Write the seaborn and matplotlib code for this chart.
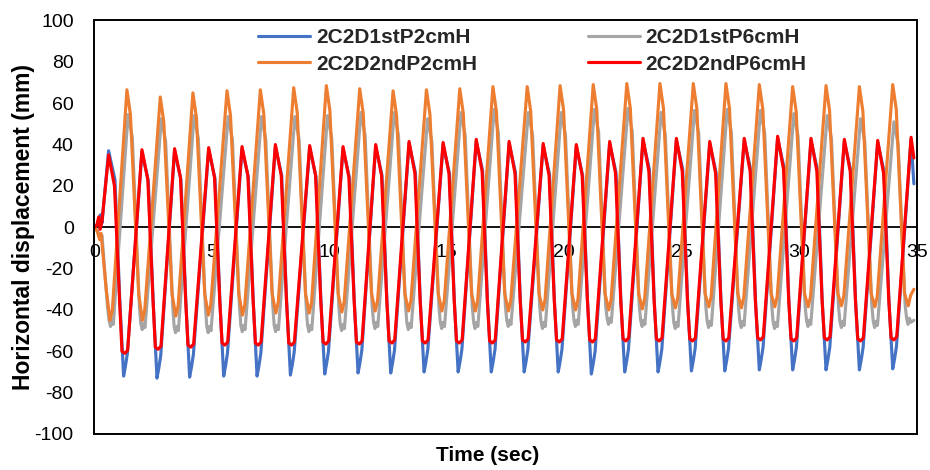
import matplotlib
matplotlib.use("Agg")
import matplotlib.pyplot as plt
from matplotlib.lines import Line2D
from matplotlib.patches import Rectangle
import pandas as pd
import seaborn as sns

# ---------------- data ----------------
series_names = ["2C2D1stP2cmH", "2C2D1stP6cmH", "2C2D2ndP2cmH", "2C2D2ndP6cmH"]
series_colors = ["#4472C4", "#A5A5A5", "#ED7D31", "#FF0000"]
x_ticks = [0, 5, 10, 15, 20, 25, 30, 35]
y_ticks = [-100, -80, -60, -40, -20, 0, 20, 40, 60, 80, 100]

# 2C2D1stP2cmH (blue)
blue_t = [0.00, 0.10, 0.25, 0.32,
          0.60, 0.87, 1.08, 1.24, 1.32, 1.40,
          2.02, 2.29, 2.50, 2.66, 2.74, 2.82,
          3.41, 3.68, 3.89, 4.05, 4.13, 4.21,
          4.86, 5.13, 5.34, 5.50, 5.58, 5.66,
          6.28, 6.55, 6.76, 6.92, 7.00, 7.08,
          7.70, 7.97, 8.18, 8.34, 8.42, 8.50,
          9.16, 9.43, 9.64, 9.80, 9.88, 9.96,
          10.58, 10.85, 11.06, 11.22, 11.30, 11.38,
          11.97, 12.24, 12.45, 12.61, 12.69, 12.77,
          13.39, 13.66, 13.87, 14.03, 14.11, 14.19,
          14.84, 15.11, 15.32, 15.48, 15.56, 15.64,
          16.25, 16.52, 16.73, 16.89, 16.97, 17.05,
          17.65, 17.92, 18.13, 18.29, 18.37, 18.45,
          19.10, 19.37, 19.58, 19.74, 19.82, 19.90,
          20.51, 20.78, 20.99, 21.15, 21.23, 21.31,
          21.93, 22.20, 22.41, 22.57, 22.65, 22.73,
          23.35, 23.62, 23.83, 23.99, 24.07, 24.15,
          24.77, 25.04, 25.25, 25.41, 25.49, 25.57,
          26.19, 26.46, 26.67, 26.83, 26.91, 26.99,
          27.66, 27.93, 28.14, 28.30, 28.38, 28.46,
          29.08, 29.35, 29.56, 29.72, 29.80, 29.88,
          30.50, 30.77, 30.98, 31.14, 31.22, 31.30,
          31.92, 32.19, 32.40, 32.56, 32.64, 32.72,
          33.34, 33.61, 33.82, 33.98, 34.06, 34.14,
          34.76, 34.88]
blue_v = [0, 1, 6, 2,
          37, 23, -36, -72, -67, -61,
          36.5, 22.5, -36, -73, -68, -62,
          37, 23, -36, -72.5, -67.5, -61.5,
          37.5, 23.5, -36, -72, -67, -61,
          38, 24, -36, -72, -67, -61,
          39, 25, -36, -71.5, -66.5, -60.5,
          38.5, 24.5, -36, -71, -66, -60,
          38, 24, -36, -70.5, -65.5, -59.5,
          39, 25, -36, -70.5, -65.5, -59.5,
          40.5, 26.5, -36, -70, -65, -59,
          40, 26, -36, -70, -65, -59,
          41.5, 27.5, -36, -70, -65, -59,
          40.5, 26.5, -36, -70, -65, -59,
          39.5, 25.5, -36, -70, -65, -59,
          39, 25, -36, -71, -66, -60,
          40.5, 26.5, -36, -70, -65, -59,
          42, 28, -36, -70, -65, -59,
          42, 28, -36, -69.5, -64.5, -58.5,
          40.5, 26.5, -36, -69.5, -64.5, -58.5,
          42, 28, -36, -69, -64, -58,
          43, 29, -36, -69, -64, -58,
          42, 28, -36, -69, -64, -58,
          41.5, 27.5, -36, -69, -64, -58,
          41, 27, -36, -68.5, -63.5, -57.5,
          42.5, 21]

# 2C2D1stP6cmH (gray)
gray_t = [0.00, 0.15, 0.25, 0.32, 0.55, 0.62, 0.68, 0.74, 0.80,
          1.43, 1.61, 1.91, 1.97, 2.03, 2.09, 2.15,
          2.85, 3.03, 3.33, 3.39, 3.45, 3.51, 3.57,
          4.24, 4.42, 4.72, 4.78, 4.84, 4.90, 4.96,
          5.69, 5.87, 6.17, 6.23, 6.29, 6.35, 6.41,
          7.11, 7.29, 7.59, 7.65, 7.71, 7.77, 7.83,
          8.53, 8.71, 9.01, 9.07, 9.13, 9.19, 9.25,
          9.92, 10.10, 10.40, 10.46, 10.52, 10.58, 10.64,
          11.34, 11.52, 11.82, 11.88, 11.94, 12.00, 12.06,
          12.76, 12.94, 13.24, 13.30, 13.36, 13.42, 13.48,
          14.18, 14.36, 14.66, 14.72, 14.78, 14.84, 14.90,
          15.60, 15.78, 16.08, 16.14, 16.20, 16.26, 16.32,
          17.01, 17.19, 17.49, 17.55, 17.61, 17.67, 17.73,
          18.47, 18.65, 18.95, 19.01, 19.07, 19.13, 19.19,
          19.87, 20.05, 20.35, 20.41, 20.47, 20.53, 20.59,
          21.28, 21.46, 21.76, 21.82, 21.88, 21.94, 22.00,
          22.71, 22.89, 23.19, 23.25, 23.31, 23.37, 23.43,
          24.12, 24.30, 24.60, 24.66, 24.72, 24.78, 24.84,
          25.54, 25.72, 26.02, 26.08, 26.14, 26.20, 26.26,
          26.93, 27.11, 27.41, 27.47, 27.53, 27.59, 27.65,
          28.35, 28.53, 28.83, 28.89, 28.95, 29.01, 29.07,
          29.77, 29.95, 30.25, 30.31, 30.37, 30.43, 30.49,
          31.19, 31.37, 31.67, 31.73, 31.79, 31.85, 31.91,
          32.61, 32.79, 33.09, 33.15, 33.21, 33.27, 33.33,
          34.03, 34.21, 34.51, 34.57, 34.63, 34.69, 34.75,
          34.88]
gray_v = [0, -2, -6, -4, -38, -45, -48, -45, -47,
          54.5, 43.5, -38, -46.5, -49.5, -46.5, -48.5,
          52.5, 41.5, -38, -48, -51, -48, -50,
          54, 43, -38, -48, -51, -48, -50,
          53.5, 42.5, -38, -47.5, -50.5, -47.5, -49.5,
          53.5, 42.5, -38, -47.5, -50.5, -47.5, -49.5,
          53.5, 42.5, -38, -47.5, -50.5, -47.5, -49.5,
          54, 43, -38, -47, -50, -47, -49,
          55.5, 44.5, -38, -46, -49, -46, -48,
          55.5, 44.5, -38, -46.5, -49.5, -46.5, -48.5,
          52.5, 41.5, -38, -46, -49, -46, -48,
          55.5, 44.5, -38, -46, -49, -46, -48,
          57, 46, -38, -45, -48, -45, -47,
          55.5, 44.5, -38, -46, -49, -46, -48,
          55.5, 44.5, -38, -45, -48, -45, -47,
          57, 46, -38, -44, -47, -44, -46,
          57.5, 46.5, -38, -45, -48, -45, -47,
          55.5, 44.5, -38, -46, -49, -46, -48,
          56.5, 45.5, -38, -45.5, -48.5, -45.5, -47.5,
          57, 46, -38, -45.5, -48.5, -45.5, -47.5,
          56.5, 45.5, -38, -46, -49, -46, -48,
          55, 44, -38, -45, -48, -45, -47,
          54, 43, -38, -45.5, -48.5, -45.5, -47.5,
          52.5, 41.5, -38, -45.5, -48.5, -45.5, -47.5,
          51, 40, -38, -44, -47, -44, -46,
          -45]

# 2C2D2ndP2cmH (orange)
orange_t = [0.00, 0.12, 0.22, 0.28, 0.50, 0.66, 0.76,
            1.38, 1.53, 1.88, 2.04, 2.14,
            2.80, 2.95, 3.30, 3.46, 3.56,
            4.19, 4.34, 4.69, 4.85, 4.95,
            5.64, 5.79, 6.14, 6.30, 6.40,
            7.06, 7.21, 7.56, 7.72, 7.82,
            8.48, 8.63, 8.98, 9.14, 9.24,
            9.87, 10.02, 10.37, 10.53, 10.63,
            11.29, 11.44, 11.79, 11.95, 12.05,
            12.71, 12.86, 13.21, 13.37, 13.47,
            14.13, 14.28, 14.63, 14.79, 14.89,
            15.55, 15.70, 16.05, 16.21, 16.31,
            16.96, 17.11, 17.46, 17.62, 17.72,
            18.42, 18.57, 18.92, 19.08, 19.18,
            19.82, 19.97, 20.32, 20.48, 20.58,
            21.23, 21.38, 21.73, 21.89, 21.99,
            22.66, 22.81, 23.16, 23.32, 23.42,
            24.07, 24.22, 24.57, 24.73, 24.83,
            25.49, 25.64, 25.99, 26.15, 26.25,
            26.88, 27.03, 27.38, 27.54, 27.64,
            28.30, 28.45, 28.80, 28.96, 29.06,
            29.72, 29.87, 30.22, 30.38, 30.48,
            31.14, 31.29, 31.64, 31.80, 31.90,
            32.56, 32.71, 33.06, 33.22, 33.32,
            33.98, 34.13, 34.48, 34.64, 34.74,
            34.88]
orange_v = [0, -2, -6, -3, -30, -45, -40,
            66.5, 54.5, -32, -45, -40,
            63, 51, -32, -43, -38,
            65, 53, -32, -42.5, -37.5,
            66, 54, -32, -42.5, -37.5,
            66.5, 54.5, -32, -41.5, -36.5,
            67.5, 55.5, -32, -41.5, -36.5,
            68.5, 56.5, -32, -41, -36,
            67, 55, -32, -40.5, -35.5,
            66, 54, -32, -40.5, -35.5,
            66.5, 54.5, -32, -40.5, -35.5,
            67, 55, -32, -40.5, -35.5,
            68, 56, -32, -40.5, -35.5,
            68, 56, -32, -40, -35,
            68.5, 56.5, -32, -40, -35,
            69, 57, -32, -40, -35,
            69.5, 57.5, -32, -39.5, -34.5,
            69.5, 57.5, -32, -39, -34,
            69.5, 57.5, -32, -38.5, -33.5,
            69.5, 57.5, -32, -39, -34,
            69, 57, -32, -38.5, -33.5,
            68, 56, -32, -38.5, -33.5,
            68.5, 56.5, -32, -38, -33,
            68, 56, -32, -38.5, -33.5,
            69, 57, -32, -38, -33,
            -30]

# 2C2D2ndP6cmH (red)
red_t = [0.00, 0.10, 0.18, 0.24, 0.32,
         0.60, 0.85, 1.07, 1.17, 1.29, 1.41,
         2.02, 2.27, 2.49, 2.59, 2.71, 2.83,
         3.41, 3.66, 3.88, 3.98, 4.10, 4.22,
         4.86, 5.11, 5.33, 5.43, 5.55, 5.67,
         6.28, 6.53, 6.75, 6.85, 6.97, 7.09,
         7.70, 7.95, 8.17, 8.27, 8.39, 8.51,
         9.16, 9.41, 9.63, 9.73, 9.85, 9.97,
         10.58, 10.83, 11.05, 11.15, 11.27, 11.39,
         11.97, 12.22, 12.44, 12.54, 12.66, 12.78,
         13.39, 13.64, 13.86, 13.96, 14.08, 14.20,
         14.84, 15.09, 15.31, 15.41, 15.53, 15.65,
         16.25, 16.50, 16.72, 16.82, 16.94, 17.06,
         17.65, 17.90, 18.12, 18.22, 18.34, 18.46,
         19.10, 19.35, 19.57, 19.67, 19.79, 19.91,
         20.51, 20.76, 20.98, 21.08, 21.20, 21.32,
         21.93, 22.18, 22.40, 22.50, 22.62, 22.74,
         23.35, 23.60, 23.82, 23.92, 24.04, 24.16,
         24.77, 25.02, 25.24, 25.34, 25.46, 25.58,
         26.19, 26.44, 26.66, 26.76, 26.88, 27.00,
         27.66, 27.91, 28.13, 28.23, 28.35, 28.47,
         29.08, 29.33, 29.55, 29.65, 29.77, 29.89,
         30.50, 30.75, 30.97, 31.07, 31.19, 31.31,
         31.92, 32.17, 32.39, 32.49, 32.61, 32.73,
         33.34, 33.59, 33.81, 33.91, 34.03, 34.15,
         34.76, 34.88]
red_v = [0, 1, 5, -1, 3,
         35, 20, -36, -60, -61, -59.5,
         37.5, 23, -35, -58, -59, -57.5,
         38, 24, -35, -57, -58, -56.5,
         38.5, 24, -35, -56, -57, -55.5,
         39, 25, -35, -56, -57, -55.5,
         40, 25, -35, -56, -57, -55.5,
         39.5, 25, -35, -55.5, -56.5, -55,
         39, 24, -35, -55.5, -56.5, -55,
         40, 25, -35, -55, -56, -54.5,
         41.5, 26, -35, -55, -56, -54.5,
         41, 26, -35, -55, -56, -54.5,
         42.5, 27, -35, -55, -56, -54.5,
         41.5, 26, -35, -54.5, -55.5, -54,
         40.5, 25, -35, -54.5, -55.5, -54,
         40, 25, -35, -54.5, -55.5, -54,
         41.5, 26, -35, -54, -55, -53.5,
         43, 27, -35, -54, -55, -53.5,
         43, 27, -35, -54, -55, -53.5,
         41.5, 26, -35, -54, -55, -53.5,
         43, 27, -35, -53.5, -54.5, -53,
         44, 28, -35, -54, -55, -53.5,
         43, 27, -35, -53.5, -54.5, -53,
         42.5, 27, -35, -54, -55, -53.5,
         42, 26, -35, -53.5, -54.5, -53,
         43.5, 33.5]

# ---------------- assemble ----------------
series_t = [blue_t, gray_t, orange_t, red_t]
series_v = [blue_v, gray_v, orange_v, red_v]
frames = []
for name, t, v in zip(series_names, series_t, series_v):
    assert len(t) == len(v), (name, len(t), len(v))
    frames.append(pd.DataFrame({"Time": t, "Disp": v, "Series": name}))
df = pd.concat(frames, ignore_index=True)

sns.set_theme(style="white")
plt.rcParams["font.family"] = ["Liberation Sans", "DejaVu Sans"]

fig, ax = plt.subplots(figsize=(9.3, 4.7), dpi=100)
fig.subplots_adjust(left=0.1016, right=0.9857, bottom=0.0766, top=0.9564)

palette = dict(zip(series_names, series_colors))
sns.lineplot(data=df, x="Time", y="Disp", hue="Series", hue_order=series_names,
             palette=palette, estimator=None, sort=False, linewidth=2.25,
             legend=False, ax=ax, zorder=2)

ax.set_xlim(0, 35)
ax.set_ylim(-100, 100)
ax.set_xticks(x_ticks)
ax.set_xticklabels([str(v) for v in x_ticks])
ax.set_yticks(y_ticks)
ax.set_yticklabels([str(v) for v in y_ticks])
ax.tick_params(axis="x", length=0, pad=12, labelsize=14, labelcolor="black")
ax.tick_params(axis="y", length=0, pad=15, labelsize=14, labelcolor="black")

for s in ["left", "top", "right"]:
    ax.spines[s].set_visible(False)
ax.spines["bottom"].set_position(("data", 0))
ax.spines["bottom"].set_color("black")
ax.spines["bottom"].set_linewidth(1.3)
ax.spines["bottom"].set_zorder(1.5)
ax.add_patch(Rectangle((0, 0), 1, 1, transform=ax.transAxes, fill=False,
                       edgecolor="black", linewidth=1.4, clip_on=False, zorder=3))

ax.set_xlabel("Time (sec)", fontsize=15, fontweight="bold", color="black")
ax.xaxis.set_label_coords(0.478, -0.029)
ax.set_ylabel("Horizontal displacement (mm)", fontsize=16.5, fontweight="bold", color="black")
ax.yaxis.set_label_coords(-0.0724, 0.5)

# legend: row 1 blue, gray; row 2 orange, red
order = [0, 2, 1, 3]
handles = [Line2D([], [], color=series_colors[i], linewidth=2.25) for i in order]
labels = [series_names[i] for i in order]
ax.legend(handles, labels, ncol=2, loc="upper left",
          bbox_to_anchor=(258 / 930, 1 - 28 / 470), bbox_transform=fig.transFigure,
          frameon=False, prop={"size": 15, "weight": "bold"},
          handlelength=2.5, handletextpad=0.29, columnspacing=5.3,
          labelspacing=0.37, borderpad=0, borderaxespad=0)

fig.savefig("out.png", dpi=100)
